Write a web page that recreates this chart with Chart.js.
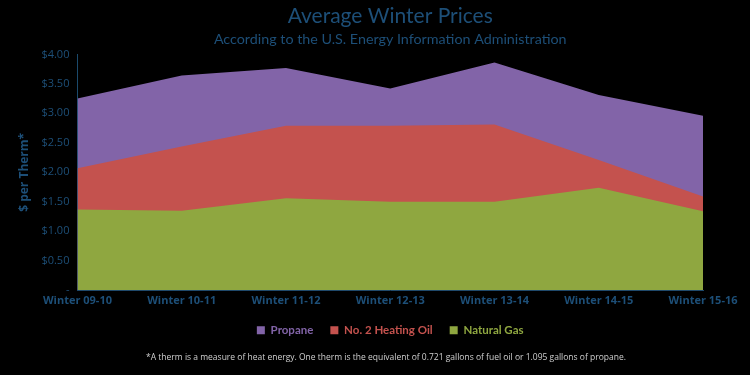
<!DOCTYPE html>
<html>
<head>
<meta charset="utf-8">
<script src="https://cdn.jsdelivr.net/npm/chart.js@4/dist/chart.umd.min.js"></script>
<style>
  html, body { margin: 0; padding: 0; background: #000; }
  #wrap { width: 750px; height: 375px; position: relative; }
</style>
</head>
<body>
<div id="wrap"><canvas id="prices"></canvas></div>
<script>
var winters = ["Winter 09-10", "Winter 10-11", "Winter 11-12", "Winter 12-13", "Winter 13-14", "Winter 14-15", "Winter 15-16"];
var propane = [3.25, 3.64, 3.77, 3.42, 3.86, 3.31, 2.96];
var heatingOil = [2.07, 2.44, 2.79, 2.79, 2.81, 2.21, 1.59];
var naturalGas = [1.37, 1.35, 1.56, 1.50, 1.50, 1.74, 1.34];
var yTicks = [0, 0.5, 1, 1.5, 2, 2.5, 3, 3.5, 4];

var navy = "#1d4f78";
var axisBlue = "#1b4a6c";

// black page + footnote
var footnote = {
  id: "footnote",
  beforeDraw: function(chart) {
    var c = chart.ctx;
    c.save();
    c.fillStyle = "#000";
    c.fillRect(0, 0, chart.width, chart.height);
    c.restore();
  },
  afterDraw: function(chart) {
    var c = chart.ctx;
    c.save();
    c.font = "8.5px 'Open Sans'";
    c.fillStyle = "#cfcfcf";
    c.textAlign = "center";
    c.textBaseline = "middle";
    c.fillText("*A therm is a measure of heat energy. One therm is the equivalent of 0.721 gallons of fuel oil or 1.095 gallons of propane.", 386, 358);
    c.restore();
  }
};

new Chart("prices", {
  type: "line",
  data: {
    labels: winters,
    datasets: [{
      label: "Propane",
      data: propane,
      backgroundColor: "#8264a8",
      borderColor: "#8264a8",
      fill: "origin",
      order: 3
    }, {
      label: "No. 2 Heating Oil",
      data: heatingOil,
      backgroundColor: "#c4524e",
      borderColor: "#c4524e",
      fill: "origin",
      order: 2
    }, {
      label: "Natural Gas",
      data: naturalGas,
      backgroundColor: "#8fa740",
      borderColor: "#8fa740",
      fill: "origin",
      order: 1
    }]
  },
  options: {
    responsive: true,
    maintainAspectRatio: false,
    animation: false,
    elements: {
      point: { radius: 0 },
      line: { borderWidth: 0, tension: 0 }
    },
    layout: { padding: { left: 13, right: 47, top: 0, bottom: 29 } },
    plugins: {
      title: {
        display: true,
        fullSize: false,
        text: "Average Winter Prices",
        color: navy,
        font: { family: "Lato", size: 21, weight: "normal" },
        padding: { top: 4, bottom: 2 }
      },
      subtitle: {
        display: true,
        fullSize: false,
        text: "According to the U.S. Energy Information Administration",
        color: navy,
        font: { family: "Lato", size: 14.3 },
        padding: { bottom: 6 }
      },
      legend: {
        position: "bottom",
        fullSize: false,
        labels: {
          boxWidth: 8,
          boxHeight: 8,
          padding: 17,
          font: { family: "Lato", size: 11.5, weight: "bold" },
          generateLabels: function(chart) {
            return chart.data.datasets.map(function(ds, i) {
              return {
                text: ds.label,
                fillStyle: ds.backgroundColor,
                strokeStyle: ds.backgroundColor,
                lineWidth: 0,
                fontColor: ds.backgroundColor,
                datasetIndex: i
              };
            });
          }
        }
      },
      tooltip: { enabled: false }
    },
    scales: {
      x: {
        offset: false,
        grid: { display: false, drawTicks: true, tickLength: 4, color: axisBlue },
        border: { color: axisBlue },
        ticks: {
          color: navy,
          font: { family: "Open Sans", size: 11, weight: "bold" },
          maxRotation: 0,
          padding: 0
        }
      },
      y: {
        min: 0,
        max: 4,
        afterBuildTicks: function(axis) {
          axis.ticks = yTicks.map(function(v) { return { value: v }; });
        },
        grid: { display: false, drawTicks: true, tickLength: 4, color: axisBlue },
        border: { color: axisBlue },
        ticks: {
          color: navy,
          font: { family: "Open Sans", size: 11 },
          padding: 4,
          callback: function(v) { return v === 0 ? "-" : "$" + Number(v).toFixed(2); }
        },
        title: {
          display: true,
          text: "$ per Therm*",
          color: navy,
          font: { family: "Open Sans", size: 12, weight: "bold" },
          padding: { bottom: 6 }
        }
      }
    }
  },
  plugins: [footnote]
});
</script>
</body>
</html>
